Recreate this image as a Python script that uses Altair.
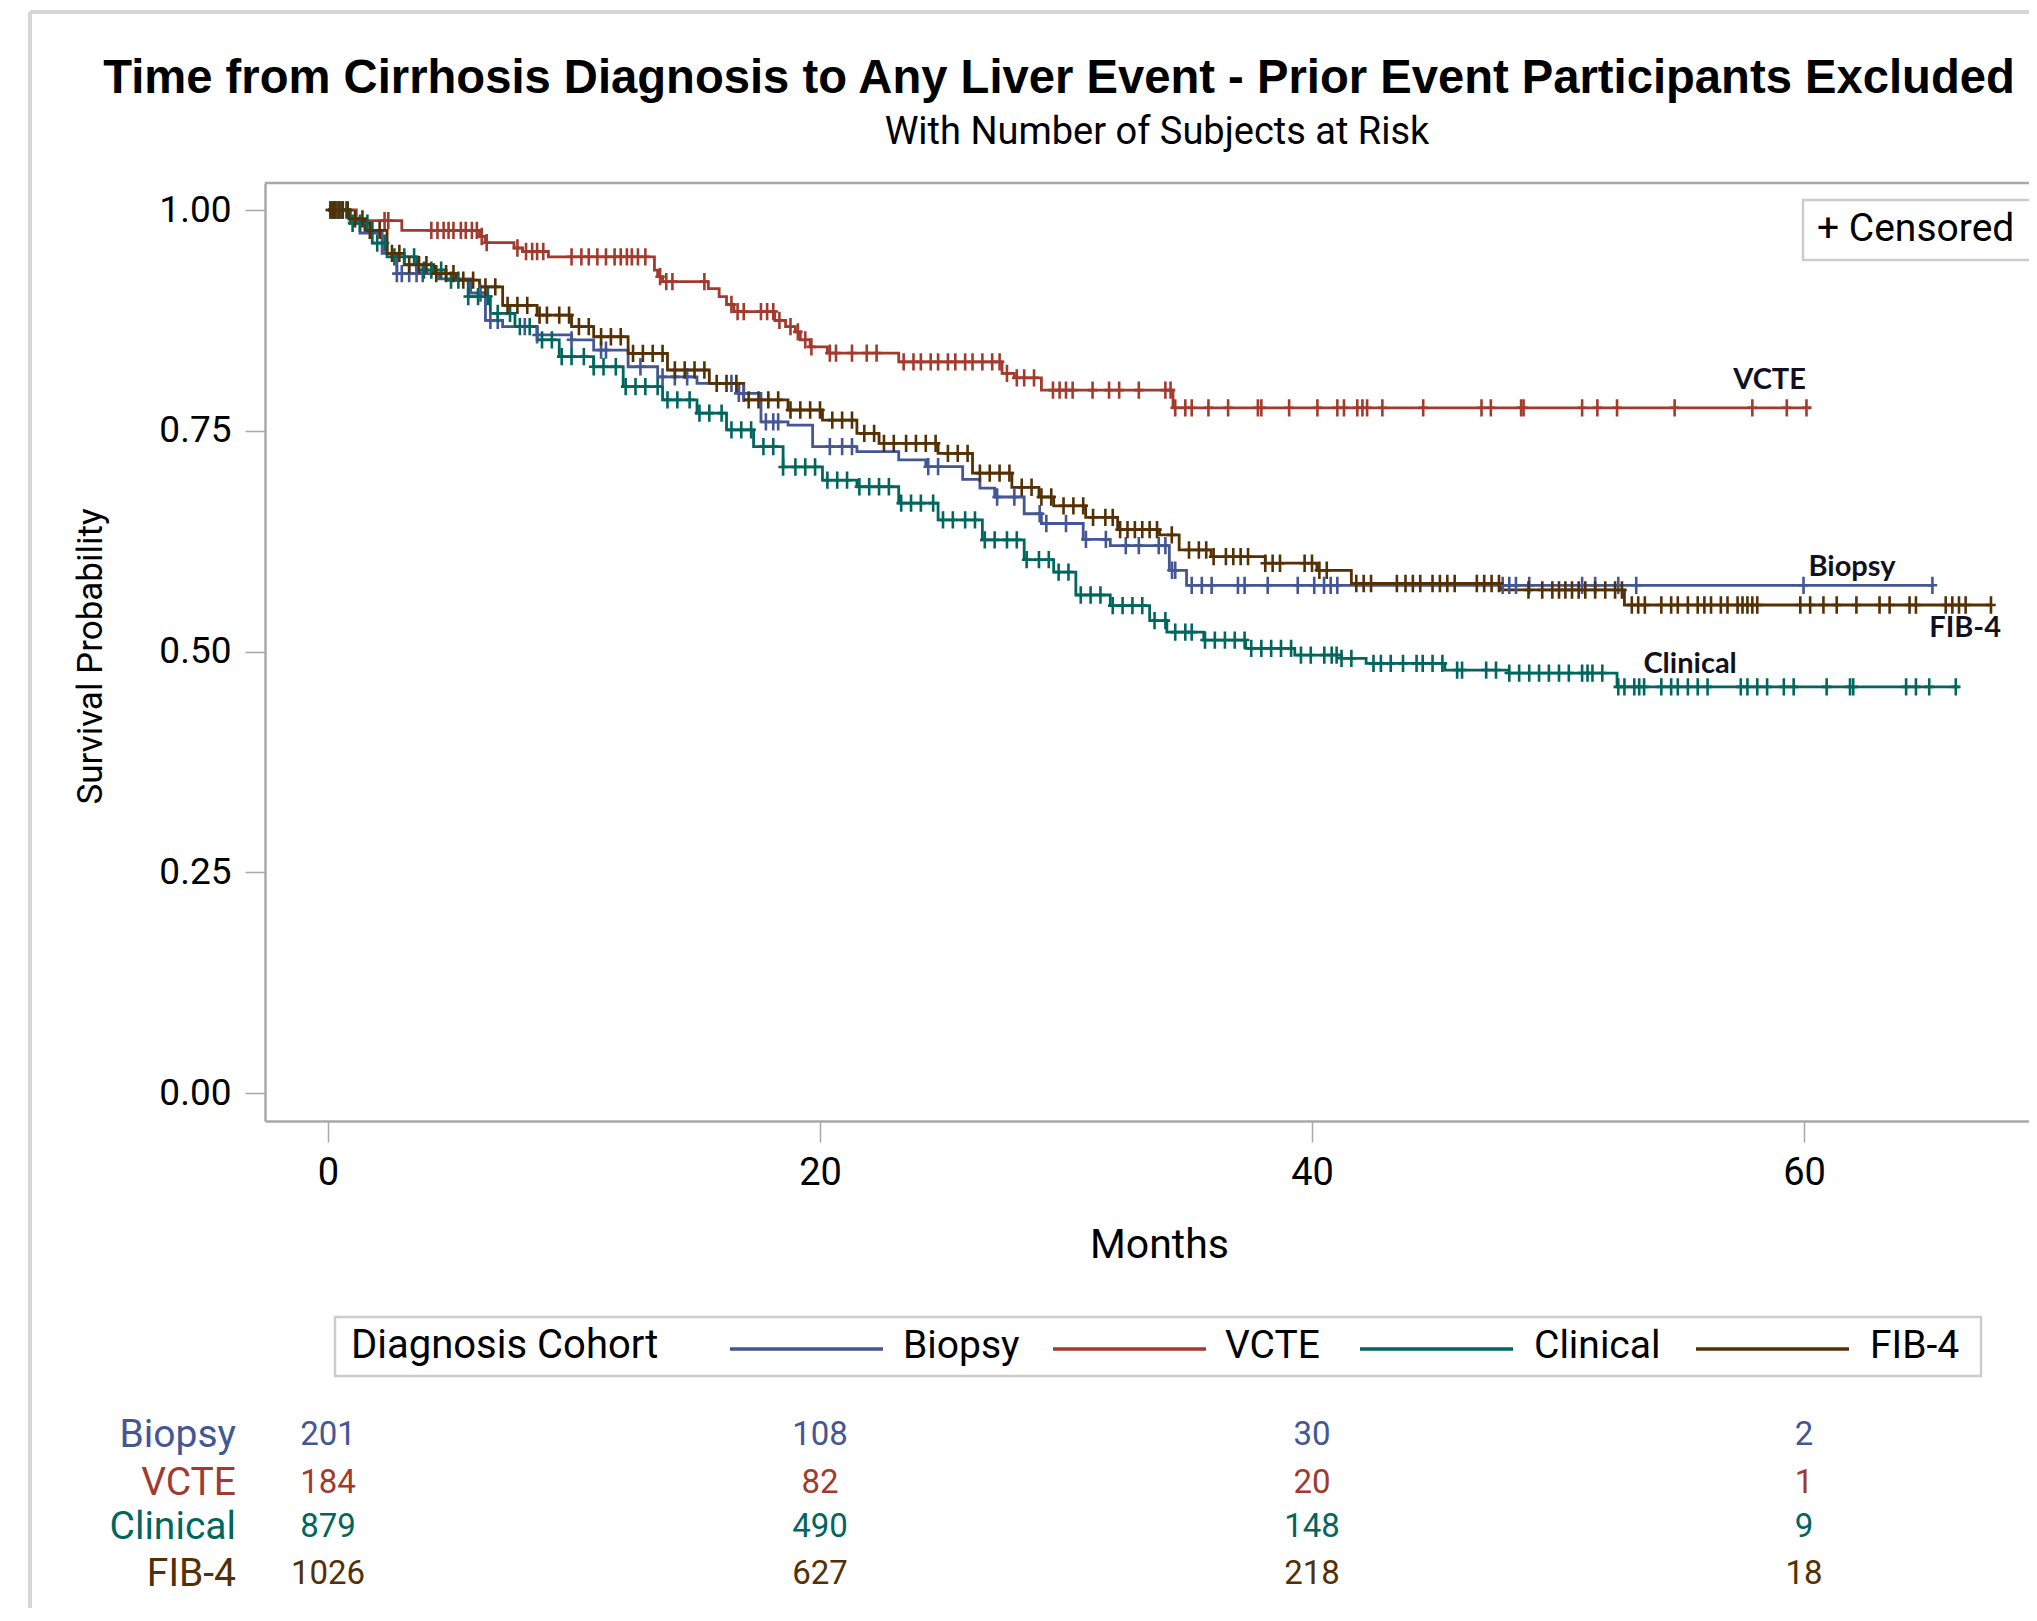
import altair as alt
import pandas as pd
from bisect import bisect_right

# ---------------- data ----------------
cohorts = ["Biopsy", "VCTE", "Clinical", "FIB-4"]
colors = ["#445694", "#A23A2E", "#01665E", "#543005"]

# Kaplan-Meier step points (months, survival probability)
biopsy_t = [0, 0.9, 1.3, 2.2, 2.8, 4.5, 5.8, 6.4, 7.1, 8.5, 9.9, 10.8, 12.2, 13.4, 15.0, 16.7,
            17.6, 18.7, 19.7, 21.5, 23.2, 24.3, 25.8, 26.5, 27.1, 28.3, 29.0, 30.7, 31.8, 34.2,
            34.9, 65.25]
biopsy_s = [1.0, 0.99, 0.974, 0.951, 0.928, 0.922, 0.906, 0.875, 0.868, 0.8585, 0.853, 0.8414,
            0.8225, 0.811, 0.8037, 0.7924, 0.760, 0.7565, 0.732, 0.7263, 0.717, 0.7093, 0.695,
            0.685, 0.675, 0.656, 0.645, 0.627, 0.620, 0.592, 0.575, 0.575]

vcte_t = [0, 1.15, 3.0, 6.16, 6.39, 7.56, 7.91, 8.96, 13.27, 13.4, 13.6, 15.46, 15.9, 16.2,
          16.5, 18.16, 18.6, 19.0, 19.2, 19.6, 20.3, 23.2, 27.4, 27.9, 29.0, 34.35, 60.3]
vcte_s = [1.0, 0.988, 0.977, 0.970, 0.963, 0.957, 0.953, 0.947, 0.932, 0.9245, 0.919, 0.911,
          0.902, 0.893, 0.885, 0.875, 0.868, 0.862, 0.853, 0.845, 0.838, 0.828, 0.815, 0.810,
          0.796, 0.776, 0.776]

clin_t = [0, 0.9, 1.8, 2.4, 3.6, 4.8, 5.7, 6.6, 7.6, 8.5, 9.4, 10.8, 12.0, 13.6, 15.0, 16.2,
          17.3, 18.5, 20.1, 21.5, 23.2, 24.8, 26.6, 28.3, 29.5, 30.4, 31.8, 33.4, 34.1, 35.6,
          37.3, 39.3, 41.2, 42.2, 45.4, 48.0, 52.4, 66.3]
clin_s = [1.0, 0.985, 0.9626, 0.947, 0.932, 0.9207, 0.902, 0.883, 0.868, 0.853, 0.834, 0.8225,
          0.80, 0.785, 0.770, 0.751, 0.732, 0.709, 0.694, 0.6866, 0.668, 0.649, 0.6264, 0.604,
          0.59, 0.564, 0.552, 0.535, 0.522, 0.513, 0.5036, 0.496, 0.4923, 0.4866, 0.479,
          0.4756, 0.46, 0.46]

fib4_t = [0, 0.85, 1.5, 2.4, 3.1, 4.3, 5.2, 6.16, 7.1, 8.5, 9.9, 10.8, 12.2, 13.8, 15.5, 16.9,
          18.7, 20.1, 21.5, 22.4, 24.8, 26.2, 27.8, 28.9, 29.5, 30.8, 32.1, 33.8, 34.6, 35.9,
          38.1, 40.2, 41.6, 47.7, 52.7, 67.6]
fib4_s = [1.0, 0.99, 0.977, 0.951, 0.938, 0.928, 0.9207, 0.913, 0.892, 0.881, 0.868, 0.8565,
          0.8377, 0.8188, 0.8037, 0.785, 0.7735, 0.762, 0.747, 0.7358, 0.7244, 0.702, 0.686,
          0.675, 0.665, 0.652, 0.638, 0.632, 0.615, 0.6074, 0.600, 0.592, 0.577, 0.5697,
          0.5527, 0.5527]

# censoring times (months)
biopsy_cens = [0.2, 0.4, 0.6, 2.8, 3.0, 3.3, 3.6, 3.85, 6.2, 6.6, 6.9, 8.0, 8.5, 9.9, 11.1, 11.3,
               12.7, 13.6, 14.1, 14.6, 16.4, 16.7, 16.9, 17.8, 18.1, 18.3, 20.4, 20.9, 21.3, 24.4,
               24.8, 27.2, 27.9, 28.93, 29.2, 30.0, 30.81, 31.62, 32.43, 32.96, 33.77, 34.04,
               34.31, 34.44, 35.11, 35.52, 35.92, 36.99, 37.26, 38.2, 39.42, 40.09, 40.49, 40.76,
               41.03, 47.75, 48.02, 48.29, 48.83, 50.98, 51.51, 52.45, 53.18, 59.98, 65.22]
vcte_cens = [0.3, 0.5, 2.3, 2.45, 4.2, 4.45, 4.7, 4.9, 5.1, 5.4, 5.6, 5.85, 6.05, 6.25, 6.45, 7.7,
             8.05, 8.3, 8.5, 8.75, 9.9, 10.3, 10.6, 10.95, 11.3, 11.65, 11.9, 12.15, 12.35, 12.6,
             12.9, 13.5, 13.75, 14.0, 15.3, 16.4, 16.65, 16.9, 17.6, 17.85, 18.1, 18.35, 18.8,
             19.1, 19.4, 19.65, 20.4, 20.65, 21.3, 21.9, 22.3, 23.4, 23.8, 24.1, 24.5, 24.8,
             25.2, 25.5, 25.9, 26.2, 26.6, 27.0, 27.3, 27.6, 28.0, 28.3, 28.7, 29.47, 29.74,
             30.0, 30.27, 31.08, 31.75, 32.16, 32.96, 34.04, 34.25, 34.44, 34.85, 35.11, 35.79,
             36.59, 37.8, 37.94, 39.07, 40.22, 41.03, 41.3, 41.84, 42.05, 42.24, 42.86, 44.52,
             46.89, 47.27, 48.5, 48.6, 50.98, 51.6, 52.4, 54.74, 57.9, 59.3, 60.1]
clin_cens = [0.1, 0.25, 0.4, 0.55, 0.75, 1.0, 1.3, 1.6, 2.0, 2.3, 2.7, 3.1, 3.5, 3.9, 4.2, 4.6,
             5.0, 5.3, 5.7, 6.1, 6.5, 6.9, 7.4, 7.8, 8.2, 8.7, 9.1, 9.5, 9.9, 10.4, 10.8, 11.2,
             11.7, 12.1, 12.5, 12.9, 13.4, 13.8, 14.2, 14.7, 15.1, 15.5, 16.0, 16.4, 16.8, 17.2,
             17.7, 18.1, 18.5, 19.0, 19.4, 19.8, 20.3, 20.7, 21.1, 21.6, 22.0, 22.4, 22.8, 23.3,
             23.7, 24.1, 24.6, 25.0, 25.4, 25.9, 26.3, 26.7, 27.1, 27.6, 28.0, 28.4, 28.9, 29.3,
             29.7, 30.1, 30.6, 31.0, 31.4, 31.9, 32.3, 32.7, 33.1, 33.6, 34.04, 34.44, 34.85,
             35.11, 35.65, 36.05, 36.46, 36.86, 37.26, 37.53, 37.94, 38.34, 38.74, 39.15, 39.55,
             39.95, 40.5, 40.8, 41.0, 41.2, 41.6, 42.5, 42.8, 43.2, 43.7, 44.25, 44.5, 44.9, 45.3,
             45.9, 46.1, 47.08, 47.48, 48.02, 48.42, 48.83, 49.23, 49.63, 50.04, 50.44, 50.98,
             51.2, 51.4, 51.8, 52.45, 52.7, 53.1, 53.3, 53.5, 54.2, 54.6, 54.87, 55.28, 55.68,
             56.08, 57.43, 57.7, 58.1, 58.5, 59.18, 59.58, 60.92, 61.87, 62.0, 64.15, 64.55,
             65.09, 66.17]
fib4_cens = [0.1, 0.2, 0.3, 0.45, 0.6, 0.8, 1.1, 1.4, 1.7, 2.1, 2.6, 2.9, 3.3, 3.7, 4.0, 4.4,
             4.8, 5.1, 5.5, 5.9, 6.4, 6.8, 7.3, 7.7, 8.1, 8.6, 8.9, 9.4, 9.8, 10.2, 10.6, 11.1,
             11.5, 11.9, 12.4, 12.8, 13.2, 13.6, 14.1, 14.5, 14.9, 15.3, 15.8, 16.2, 16.6, 17.1,
             17.5, 17.9, 18.3, 18.8, 19.2, 19.6, 20.0, 20.5, 20.9, 21.3, 21.8, 22.2, 22.6, 23.0,
             23.5, 23.9, 24.3, 24.7, 25.2, 25.6, 26.0, 26.5, 26.9, 27.3, 27.7, 28.2, 28.6, 29.0,
             29.4, 29.9, 30.3, 30.7, 31.1, 31.6, 31.9, 32.2, 32.5, 32.8, 33.1, 33.4, 33.7, 34.3,
             35.0, 35.4, 35.7, 36.0, 36.5, 36.8, 37.1, 37.4, 38.1, 38.4, 38.7, 39.7, 40.0, 40.3,
             40.6, 41.8, 42.1, 42.4, 43.45, 43.8, 44.1, 44.4, 44.9, 45.2, 45.5, 45.8, 46.7, 47.0,
             47.3, 47.6, 48.8, 49.36, 49.77, 50.04, 50.3, 50.57, 50.84, 51.11, 51.51, 51.92,
             52.32, 52.6, 53.0, 53.26, 53.53, 54.2, 54.6, 54.87, 55.28, 55.68, 55.95, 56.22,
             56.62, 56.89, 57.3, 57.5, 57.7, 57.9, 58.1, 59.85, 60.25, 60.79, 61.33, 62.13,
             63.07, 63.48, 64.29, 64.55, 65.76, 66.03, 66.3, 66.57, 67.6]

# curve end labels
label_names = ["VCTE", "Biopsy", "FIB-4", "Clinical"]
label_month = [58.6, 61.95, 66.55, 55.37]
label_surv = [0.808, 0.596, 0.527, 0.486]

# number at risk table
risk_times = [0, 20, 40, 60]
risk_biopsy = [201, 108, 30, 2]
risk_vcte = [184, 82, 20, 1]
risk_clinical = [879, 490, 148, 9]
risk_fib4 = [1026, 627, 218, 18]

x_ticks = [0, 20, 40, 60]
y_ticks = [0, 0.25, 0.5, 0.75, 1.0]

title_text = "Time from Cirrhosis Diagnosis to Any Liver Event - Prior Event Participants Excluded"
subtitle_text = "With Number of Subjects at Risk"
legend_title = "Diagnosis Cohort"

# ---------------- build tables ----------------
steps = {"Biopsy": (biopsy_t, biopsy_s), "VCTE": (vcte_t, vcte_s),
         "Clinical": (clin_t, clin_s), "FIB-4": (fib4_t, fib4_s)}
cens = {"Biopsy": biopsy_cens, "VCTE": vcte_cens, "Clinical": clin_cens, "FIB-4": fib4_cens}
risk = {"Biopsy": risk_biopsy, "VCTE": risk_vcte, "Clinical": risk_clinical, "FIB-4": risk_fib4}

curve_rows = []
for c in cohorts:
    ts, ss = steps[c]
    for t, s in zip(ts, ss):
        curve_rows.append({"cohort": c, "month": t, "surv": s})
curves = pd.DataFrame(curve_rows)


def surv_at(c, t):
    ts, ss = steps[c]
    i = max(bisect_right(ts, t) - 1, 0)
    return ss[i]


# ---------------- layout ----------------
W, H = 1764, 938
FONT = "Liberation Sans"
FONT2 = "Roboto"
AX = "#a8a8a8"

xs = alt.Scale(domain=[-2.561, 69.146], nice=False, zero=False)
ys = alt.Scale(domain=[-0.0317, 1.0306], nice=False, zero=False)

xaxis = alt.Axis(values=x_ticks, format="d", title="Months", titleX=894, titleY=124,
                 titleAlign="center", titleBaseline="middle", titleFont=FONT2,
                 titleFontSize=41, titleFontWeight="normal", titleColor="#000",
                 labelFont=FONT2, labelFontSize=38, labelColor="#000", labelPadding=12,
                 tickSize=21, tickColor=AX, tickWidth=1.5, domainColor=AX, domainWidth=2.5,
                 grid=False, labelFlush=False)
yaxis = alt.Axis(values=y_ticks, format=".2f", title="Survival Probability", titleX=-175,
                 titleY=473, titleAngle=270, titleAlign="center", titleBaseline="middle",
                 titleFont=FONT2, titleFontSize=35, titleFontWeight="normal", titleColor="#000",
                 labelFont=FONT2, labelFontSize=37, labelColor="#000", labelPadding=14,
                 tickSize=20, tickColor=AX, tickWidth=1.5, domainColor=AX, domainWidth=2.5,
                 grid=False, labelFlush=False)

X = alt.X("month:Q", scale=xs, axis=xaxis)
Y = alt.Y("surv:Q", scale=ys, axis=yaxis)

one = pd.DataFrame({"a": [0]})

layers = []

# outer frame
layers.append(alt.Chart(one).mark_rule(color="#d6d6d6", strokeWidth=4).encode(
    x=alt.value(-235), y=alt.value(-171), y2=alt.value(1440)))
layers.append(alt.Chart(one).mark_rule(color="#d6d6d6", strokeWidth=4).encode(
    x=alt.value(-235), x2=alt.value(W + 20), y=alt.value(-171)))
# top edge of plot frame
layers.append(alt.Chart(one).mark_rule(color=AX, strokeWidth=2.5).encode(
    x=alt.value(0), x2=alt.value(W + 20), y=alt.value(0)))

# KM curves
layers.append(alt.Chart(curves).mark_line(interpolate="step-after", strokeWidth=2.8).encode(
    x=X, y=Y,
    color=alt.Color("cohort:N", scale=alt.Scale(domain=cohorts, range=colors), legend=None)))

# censor marks
plus = "M -0.55 0 L 0.55 0 M 0 -1 L 0 1"
for c, col in zip(cohorts, colors):
    df = pd.DataFrame({"month": cens[c], "surv": [surv_at(c, t) for t in cens[c]]})
    layers.append(alt.Chart(df).mark_point(shape=plus, filled=False, stroke=col, strokeWidth=2.6,
                                           size=300, opacity=1).encode(x=X, y=Y))

# curve labels
lab = pd.DataFrame({"name": label_names, "month": label_month, "surv": label_surv})
layers.append(alt.Chart(lab).mark_text(font="Lato", fontSize=29, fontWeight="bold",
                                       color="#111122", align="center",
                                       baseline="middle").encode(x=X, y=Y, text="name:N"))

# Censored legend box
layers.append(alt.Chart(one).mark_rect(fill="white", stroke="#cccccc", strokeWidth=2.5).encode(
    x=alt.value(1538), x2=alt.value(1772), y=alt.value(17), y2=alt.value(77)))
layers.append(alt.Chart(one).mark_text(text="+ Censored", font=FONT2, fontSize=39, color="#000",
                                       align="left", baseline="middle").encode(
    x=alt.value(1552), y=alt.value(46)))

# cohort legend (box, title, line swatches, labels)
layers.append(alt.Chart(one).mark_rect(fill="white", stroke="#cccccc", strokeWidth=2.5).encode(
    x=alt.value(70), x2=alt.value(1716), y=alt.value(1134), y2=alt.value(1193)))
layers.append(alt.Chart(one).mark_text(text=legend_title, font=FONT2, fontSize=40, color="#000",
                                       align="left", baseline="middle").encode(
    x=alt.value(86), y=alt.value(1163)))
sw_x1 = [465, 788, 1095, 1431]
lab_x = [638, 960, 1269, 1605]
for c, col, x1, lx in zip(cohorts, colors, sw_x1, lab_x):
    layers.append(alt.Chart(one).mark_rule(color=col, strokeWidth=3.5).encode(
        x=alt.value(x1), x2=alt.value(x1 + 153), y=alt.value(1166)))
    layers.append(alt.Chart(one).mark_text(text=c, font=FONT2, fontSize=39, color="#000",
                                           align="left", baseline="middle").encode(
        x=alt.value(lx), y=alt.value(1163)))

# titles
layers.append(alt.Chart(one).mark_text(text=title_text, font=FONT, fontSize=47.2,
                                       fontWeight="bold", color="#000", align="center",
                                       baseline="middle").encode(
    x=alt.value(794), y=alt.value(-104)))
layers.append(alt.Chart(one).mark_text(text=subtitle_text, font=FONT2, fontSize=38,
                                       color="#000", align="center", baseline="middle").encode(
    x=alt.value(892), y=alt.value(-50)))

# number-at-risk table
row_y = [1252, 1300, 1344, 1391]
for c, col, yy in zip(cohorts, colors, row_y):
    df = pd.DataFrame({"month": risk_times, "n": risk[c]})
    layers.append(alt.Chart(df).mark_text(font=FONT2, fontSize=33, color=col, align="center",
                                          baseline="middle").encode(
        x=X, y=alt.value(yy), text="n:Q"))
    layers.append(alt.Chart(one).mark_text(text=c, font=FONT2, fontSize=39, color=col,
                                           align="right", baseline="middle").encode(
        x=alt.value(-29), y=alt.value(yy)))

chart = alt.layer(*layers).properties(
    width=W, height=H,
    autosize=alt.AutoSizeParams(type="none"),
    padding={"left": 257, "top": 175, "right": 0, "bottom": 487},
).configure_view(strokeWidth=0)

chart.save("out.html", embed_options={"renderer": "svg", "actions": False})
